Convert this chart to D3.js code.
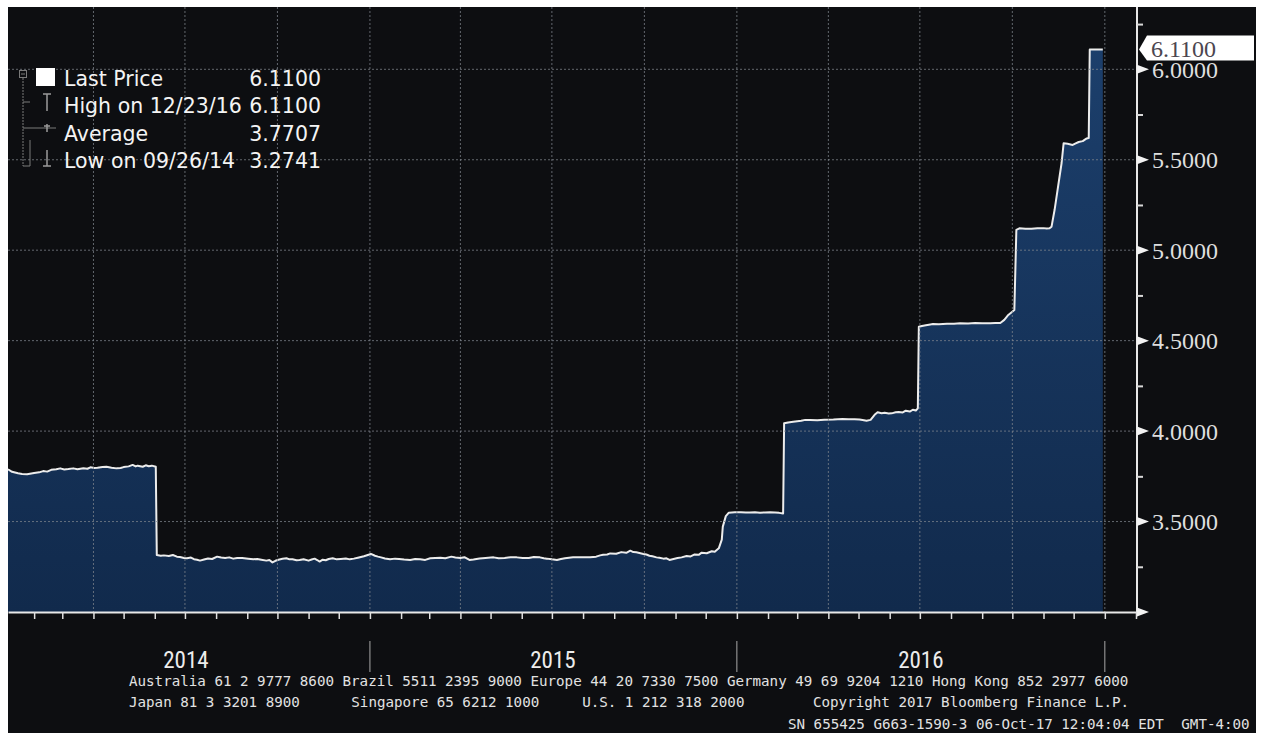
<!DOCTYPE html>
<html>
<head>
<meta charset="utf-8">
<script src="https://cdn.jsdelivr.net/npm/d3@7"></script>
<style>
  html, body { margin: 0; padding: 0; background: #fff; }
  svg { display: block; }
  .grid line { stroke: #80858e; stroke-opacity: 0.75; stroke-dasharray: 2,2; stroke-width: 1; }
  .price-line { fill: none; stroke: #ececec; stroke-width: 2; stroke-linejoin: round; }
  .y-label { font-family: "Liberation Serif", "DejaVu Serif", serif; font-size: 24px; fill: #dedede; }
  .year-label { font-family: "Liberation Sans Narrow", "Roboto Condensed", "DejaVu Sans Condensed", "Liberation Serif", serif; font-size: 23px; fill: #ececec; }
  .legend-text { font-family: "DejaVu Sans", "Noto Sans", sans-serif; font-size: 20.5px; fill: #f4f4f4; }
  .footer { font-family: "DejaVu Sans Mono", "Liberation Mono", monospace; font-size: 14.2px; fill: #e2e2e2; }
</style>
</head>
<body>
<svg id="chart" width="1261" height="736"></svg>
<script>
// price series [date, price]
var priceSeries = [
  ["2014-01-06", 3.789], ["2014-01-10", 3.775], ["2014-01-16", 3.767], ["2014-01-20", 3.763],
  ["2014-01-25", 3.761], ["2014-02-01", 3.768], ["2014-02-06", 3.772], ["2014-02-10", 3.779],
  ["2014-02-14", 3.776], ["2014-02-18", 3.786], ["2014-02-23", 3.789], ["2014-02-27", 3.794],
  ["2014-03-03", 3.788], ["2014-03-07", 3.790], ["2014-03-12", 3.794], ["2014-03-16", 3.789],
  ["2014-03-22", 3.795], ["2014-03-26", 3.792], ["2014-03-29", 3.800], ["2014-04-02", 3.796],
  ["2014-04-05", 3.797], ["2014-04-10", 3.801], ["2014-04-14", 3.803], ["2014-04-19", 3.798],
  ["2014-04-24", 3.794], ["2014-04-28", 3.796], ["2014-05-01", 3.801], ["2014-05-06", 3.805],
  ["2014-05-10", 3.813], ["2014-05-13", 3.805], ["2014-05-15", 3.809], ["2014-05-20", 3.803],
  ["2014-05-23", 3.811], ["2014-05-26", 3.806], ["2014-05-29", 3.809], ["2014-06-02", 3.803],
  ["2014-06-03", 3.315], ["2014-06-07", 3.311], ["2014-06-10", 3.313], ["2014-06-15", 3.310],
  ["2014-06-19", 3.315], ["2014-06-23", 3.306], ["2014-06-26", 3.304], ["2014-06-30", 3.299],
  ["2014-07-03", 3.297], ["2014-07-07", 3.301], ["2014-07-10", 3.292], ["2014-07-13", 3.289],
  ["2014-07-16", 3.284], ["2014-07-20", 3.290], ["2014-07-24", 3.296], ["2014-07-28", 3.293],
  ["2014-08-02", 3.306], ["2014-08-06", 3.301], ["2014-08-10", 3.299], ["2014-08-14", 3.302],
  ["2014-08-18", 3.295], ["2014-08-22", 3.299], ["2014-08-27", 3.298], ["2014-09-02", 3.294],
  ["2014-09-07", 3.291], ["2014-09-11", 3.293], ["2014-09-15", 3.289], ["2014-09-20", 3.284],
  ["2014-09-23", 3.287], ["2014-09-26", 3.2741], ["2014-09-29", 3.283], ["2014-10-02", 3.289],
  ["2014-10-06", 3.294], ["2014-10-10", 3.297], ["2014-10-13", 3.291], ["2014-10-16", 3.292],
  ["2014-10-20", 3.286], ["2014-10-23", 3.288], ["2014-10-27", 3.292], ["2014-11-01", 3.284],
  ["2014-11-04", 3.290], ["2014-11-07", 3.295], ["2014-11-10", 3.286], ["2014-11-12", 3.279],
  ["2014-11-15", 3.289], ["2014-11-18", 3.286], ["2014-11-21", 3.293], ["2014-11-25", 3.297],
  ["2014-11-29", 3.291], ["2014-12-03", 3.293], ["2014-12-08", 3.296], ["2014-12-12", 3.291],
  ["2014-12-16", 3.295], ["2014-12-20", 3.300], ["2014-12-26", 3.308], ["2015-01-02", 3.321],
  ["2015-01-06", 3.311], ["2015-01-09", 3.306], ["2015-01-12", 3.302], ["2015-01-16", 3.296],
  ["2015-01-21", 3.291], ["2015-01-26", 3.295], ["2015-01-30", 3.293], ["2015-02-04", 3.290],
  ["2015-02-10", 3.288], ["2015-02-15", 3.293], ["2015-02-20", 3.292], ["2015-02-25", 3.288],
  ["2015-03-02", 3.297], ["2015-03-07", 3.299], ["2015-03-12", 3.300], ["2015-03-17", 3.297],
  ["2015-03-23", 3.306], ["2015-03-27", 3.301], ["2015-04-01", 3.299], ["2015-04-05", 3.303],
  ["2015-04-10", 3.288], ["2015-04-14", 3.290], ["2015-04-20", 3.296], ["2015-04-26", 3.299],
  ["2015-05-04", 3.302], ["2015-05-09", 3.297], ["2015-05-15", 3.298], ["2015-05-21", 3.303],
  ["2015-05-27", 3.302], ["2015-06-02", 3.298], ["2015-06-08", 3.299], ["2015-06-13", 3.304],
  ["2015-06-19", 3.302], ["2015-06-23", 3.297], ["2015-06-26", 3.295], ["2015-07-01", 3.291],
  ["2015-07-06", 3.288], ["2015-07-10", 3.293], ["2015-07-14", 3.297], ["2015-07-18", 3.300],
  ["2015-07-22", 3.302], ["2015-07-28", 3.302], ["2015-08-03", 3.302], ["2015-08-08", 3.303],
  ["2015-08-14", 3.306], ["2015-08-18", 3.313], ["2015-08-21", 3.316], ["2015-08-25", 3.318],
  ["2015-08-28", 3.324], ["2015-09-03", 3.322], ["2015-09-08", 3.331], ["2015-09-13", 3.327],
  ["2015-09-17", 3.339], ["2015-09-20", 3.331], ["2015-09-23", 3.330], ["2015-09-27", 3.325],
  ["2015-09-30", 3.321], ["2015-10-03", 3.318], ["2015-10-06", 3.311], ["2015-10-09", 3.308],
  ["2015-10-13", 3.302], ["2015-10-16", 3.300], ["2015-10-20", 3.295], ["2015-10-23", 3.297],
  ["2015-10-26", 3.288], ["2015-10-30", 3.293], ["2015-11-03", 3.298], ["2015-11-07", 3.302],
  ["2015-11-12", 3.310], ["2015-11-16", 3.307], ["2015-11-20", 3.318], ["2015-11-24", 3.316],
  ["2015-11-27", 3.328], ["2015-12-02", 3.325], ["2015-12-07", 3.336], ["2015-12-10", 3.333],
  ["2015-12-14", 3.352], ["2015-12-17", 3.400], ["2015-12-18", 3.472], ["2015-12-21", 3.530],
  ["2015-12-24", 3.549], ["2015-12-30", 3.551], ["2016-01-05", 3.552], ["2016-01-10", 3.550],
  ["2016-01-14", 3.550], ["2016-01-19", 3.551], ["2016-01-24", 3.549], ["2016-01-29", 3.550],
  ["2016-02-03", 3.551], ["2016-02-08", 3.550], ["2016-02-12", 3.548], ["2016-02-16", 3.545],
  ["2016-02-17", 4.043], ["2016-02-21", 4.048], ["2016-02-26", 4.052], ["2016-03-01", 4.055],
  ["2016-03-05", 4.057], ["2016-03-09", 4.062], ["2016-03-14", 4.061], ["2016-03-21", 4.060],
  ["2016-03-28", 4.063], ["2016-04-06", 4.064], ["2016-04-15", 4.067], ["2016-04-21", 4.065],
  ["2016-04-27", 4.066], ["2016-05-02", 4.064], ["2016-05-05", 4.061], ["2016-05-09", 4.057],
  ["2016-05-13", 4.062], ["2016-05-17", 4.090], ["2016-05-20", 4.104], ["2016-05-24", 4.099],
  ["2016-05-27", 4.101], ["2016-05-31", 4.097], ["2016-06-03", 4.098], ["2016-06-07", 4.104],
  ["2016-06-10", 4.106], ["2016-06-14", 4.103], ["2016-06-17", 4.113], ["2016-06-21", 4.108],
  ["2016-06-24", 4.118], ["2016-06-27", 4.114], ["2016-06-29", 4.126], ["2016-06-30", 4.577],
  ["2016-07-03", 4.581], ["2016-07-07", 4.585], ["2016-07-10", 4.588], ["2016-07-14", 4.592],
  ["2016-07-20", 4.591], ["2016-07-28", 4.594], ["2016-08-04", 4.594], ["2016-08-10", 4.596],
  ["2016-08-18", 4.595], ["2016-08-25", 4.597], ["2016-09-01", 4.596], ["2016-09-09", 4.596],
  ["2016-09-14", 4.597], ["2016-09-19", 4.598], ["2016-09-23", 4.615], ["2016-09-27", 4.642],
  ["2016-10-03", 4.669], ["2016-10-05", 5.112], ["2016-10-08", 5.121], ["2016-10-14", 5.119],
  ["2016-10-20", 5.118], ["2016-10-26", 5.121], ["2016-11-01", 5.122], ["2016-11-04", 5.120],
  ["2016-11-07", 5.121], ["2016-11-09", 5.130], ["2016-11-12", 5.222], ["2016-11-15", 5.333],
  ["2016-11-19", 5.482], ["2016-11-21", 5.591], ["2016-11-25", 5.588], ["2016-11-30", 5.582],
  ["2016-12-03", 5.590], ["2016-12-06", 5.598], ["2016-12-10", 5.603], ["2016-12-14", 5.618],
  ["2016-12-16", 5.620], ["2016-12-17", 6.110], ["2016-12-23", 6.110], ["2016-12-30", 6.110]
];

var xDomain = ["2014-01-06", "2017-02-02"];
var yDomain = [3.0, 6.0];
var yMajorTicks = [3.0, 3.5, 4.0, 4.5, 5.0, 5.5, 6.0];
var yLabelTicks = [3.5, 4.0, 4.5, 5.0, 5.5, 6.0];
var yMinorTicks = [3.25, 3.75, 4.25, 4.75, 5.25, 5.75, 6.25];
var yearLabels = ["2014", "2015", "2016"];
var yearCenters = ["2014-07-02", "2015-07-02", "2016-07-02"];
var yearBreaks = ["2015-01-01", "2016-01-01", "2017-01-01"];
var lastPrice = 6.11;
var lastPriceLabel = "6.1100";

var legendLabels = ["Last Price", "High on 12/23/16", "Average", "Low on 09/26/14"];
var legendValues = ["6.1100", "6.1100", "3.7707", "3.2741"];

var footerLine1 = [[0, "Australia 61 2 9777 8600 Brazil 5511 2395 9000 Europe 44 20 7330 7500 Germany 49 69 9204 1210 Hong Kong 852 2977 6000"]];
var footerLine2 = [[0, "Japan 81 3 3201 8900"], [26, "Singapore 65 6212 1000"], [53, "U.S. 1 212 318 2000"], [80, "Copyright 2017 Bloomberg Finance L.P."]];
var footerLine3 = [[0, "SN 655425 G663-1590-3 06-Oct-17 12:04:04 EDT"], [46, "GMT-4:00"]];

(function(root) {
    var svg, x, y;
    var parse = d3.timeParse("%Y-%m-%d");
    var plotLeft = 8, plotRight = 1137, plotTop = 7, plotBottom = 612;
    var CHAR_W = 8.55;

    function draw() {
        svg = d3.select("#chart");

        x = d3.scaleTime()
              .domain(xDomain.map(parse))
              .range([plotLeft, plotRight]);

        y = d3.scaleLinear()
              .domain(yDomain)
              .range([plotBottom, 69.3]);

        svg.append("rect").attr("width", 1261).attr("height", 736).attr("fill", "#ffffff");
        svg.append("rect")
            .attr("x", 8).attr("y", 7)
            .attr("width", 1248).attr("height", 726)
            .attr("fill", "#0d0e11");

        drawArea();
        drawGrid();
        drawAxes();
        drawLastTag();
        drawLegend();
        drawFooter();
    }

    function drawArea() {
        var rows = priceSeries.map(function(d) { return { date: parse(d[0]), value: d[1] }; });

        var grad = svg.append("defs").append("linearGradient")
            .attr("id", "fillGrad")
            .attr("gradientUnits", "userSpaceOnUse")
            .attr("x1", 0).attr("y1", 40).attr("x2", 0).attr("y2", plotBottom);
        grad.append("stop").attr("offset", 0).attr("stop-color", "#1c3f6c");
        grad.append("stop").attr("offset", 1).attr("stop-color", "#112a4c");

        var area = d3.area()
            .x(function(d) { return x(d.date); })
            .y0(plotBottom)
            .y1(function(d) { return y(d.value); });

        var line = d3.line()
            .x(function(d) { return x(d.date); })
            .y(function(d) { return y(d.value); });

        svg.append("path").datum(rows).attr("d", area).attr("fill", "url(#fillGrad)");
        svg.append("path").datum(rows).attr("class", "price-line").attr("d", line);
    }

    function drawGrid() {
        var grid = svg.append("g").attr("class", "grid");

        grid.selectAll("hgrid")
            .data(yLabelTicks)
            .enter()
            .append("line")
            .attr("x1", plotLeft)
            .attr("x2", plotRight)
            .attr("y1", function(d) { return y(d); })
            .attr("y2", function(d) { return y(d); });

        var quarters = d3.timeMonth.every(3).range(parse("2014-02-01"), parse("2017-01-02"));
        grid.selectAll("vgrid")
            .data(quarters)
            .enter()
            .append("line")
            .attr("x1", function(d) { return x(d); })
            .attr("x2", function(d) { return x(d); })
            .attr("y1", plotTop)
            .attr("y2", plotBottom);
    }

    function drawAxes() {
        // bottom axis, monthly ticks, no labels
        var xAxis = d3.axisBottom(x)
            .ticks(d3.timeMonth.every(1))
            .tickSize(7)
            .tickSizeOuter(0)
            .tickFormat("");
        var gx = svg.append("g")
            .attr("transform", "translate(0," + plotBottom + ")")
            .call(xAxis);
        gx.select(".domain").attr("stroke", "#e8e8e8").attr("stroke-width", 2);
        gx.selectAll(".tick line").attr("stroke", "#e0e0e0").attr("stroke-width", 1.5);

        svg.append("g").selectAll("year-break")
            .data(yearBreaks.map(parse))
            .enter()
            .append("line")
            .attr("x1", function(d) { return x(d); })
            .attr("x2", function(d) { return x(d); })
            .attr("y1", 641)
            .attr("y2", 672)
            .attr("stroke", "#a8a8a8")
            .attr("stroke-width", 1);

        svg.append("g").selectAll("year-label")
            .data(yearLabels)
            .enter()
            .append("text")
            .attr("class", "year-label")
            .attr("text-anchor", "middle")
            .attr("x", function(d, i) { return x(parse(yearCenters[i])); })
            .attr("y", 668)
            .text(function(d) { return d; });

        // right axis: line, minor ticks, labels
        var minorAxis = d3.axisRight(y)
            .tickValues(yMinorTicks)
            .tickSize(6)
            .tickSizeOuter(0)
            .tickFormat("");
        var gy = svg.append("g")
            .attr("transform", "translate(" + plotRight + ",0)")
            .call(minorAxis);
        gy.select(".domain").attr("d", "M0," + plotTop + "V" + (plotBottom + 1))
            .attr("stroke", "#e8e8e8").attr("stroke-width", 2);
        gy.selectAll(".tick line").attr("stroke", "#d8d8d8").attr("stroke-width", 2);

        var labelAxis = d3.axisRight(y)
            .tickValues(yLabelTicks)
            .tickSize(0)
            .tickPadding(15)
            .tickFormat(d3.format(".4f"));
        var gl = svg.append("g")
            .attr("transform", "translate(" + plotRight + ",0)")
            .call(labelAxis);
        gl.select(".domain").remove();
        gl.selectAll(".tick text")
            .attr("class", "y-label")
            .attr("fill", null)
            .attr("dy", "0.34em");

        svg.append("g").selectAll("major-tick")
            .data(yMajorTicks)
            .enter()
            .append("path")
            .attr("d", function(d) {
                var ty = y(d);
                return "M" + plotRight + "," + (ty - 4.5) + "L" + (plotRight + 12) + "," + ty + "L" + plotRight + "," + (ty + 4.5) + "Z";
            })
            .attr("fill", "#f2f2f2");
    }

    function drawLastTag() {
        var ty = y(lastPrice);
        var tag = svg.append("g");
        tag.append("path")
            .attr("d", "M" + (plotRight + 2) + "," + ty +
                       "L" + (plotRight + 10) + "," + (ty - 14) +
                       "H1254V" + (ty + 11) +
                       "H" + (plotRight + 10) + "Z")
            .attr("fill", "#ffffff");
        tag.append("text")
            .attr("class", "y-label")
            .attr("x", 1151)
            .attr("y", ty + 7.5)
            .style("fill", "#4c4650")
            .text(lastPriceLabel);
    }

    function drawLegend() {
        var lg = svg.append("g").attr("class", "legend");
        var rowY = function(i) { return 86 + i * 27.3; };
        var grey = "#7a7a7a";

        // tree lines
        lg.append("rect").attr("x", 19.5).attr("y", 70.5).attr("width", 7).attr("height", 7)
            .attr("fill", "none").attr("stroke", grey);
        lg.append("line").attr("x1", 21).attr("x2", 25).attr("y1", 74).attr("y2", 74).attr("stroke", grey);
        lg.append("line").attr("x1", 23).attr("x2", 23).attr("y1", 78).attr("y2", 166)
            .attr("stroke", grey).attr("stroke-dasharray", "2,1");
        lg.append("line").attr("x1", 23).attr("x2", 30).attr("y1", 102).attr("y2", 102).attr("stroke", grey);
        lg.append("line").attr("x1", 23).attr("x2", 56).attr("y1", 128).attr("y2", 128).attr("stroke", grey);
        lg.append("line").attr("x1", 23).attr("x2", 30).attr("y1", 166).attr("y2", 166).attr("stroke", grey);
        lg.append("line").attr("x1", 30).attr("x2", 30).attr("y1", 140).attr("y2", 166).attr("stroke", grey);

        // series marker
        lg.append("rect").attr("x", 36).attr("y", 68).attr("width", 19).attr("height", 18).attr("fill", "#ffffff");
        // high marker
        lg.append("path").attr("d", "M43,94H51M47,94V111").attr("stroke", "#9a9a9a").attr("stroke-width", 1.5);
        // average marker
        lg.append("path").attr("d", "M47,124V132M44,126H50").attr("stroke", "#9a9a9a").attr("stroke-width", 1.5);
        // low marker
        lg.append("path").attr("d", "M47,150V166M43,166H51").attr("stroke", "#9a9a9a").attr("stroke-width", 1.5);

        lg.selectAll("legend-label")
            .data(legendLabels)
            .enter()
            .append("text")
            .attr("class", "legend-text")
            .attr("x", 64)
            .attr("y", function(d, i) { return rowY(i); })
            .text(function(d) { return d; });

        lg.selectAll("legend-value")
            .data(legendValues)
            .enter()
            .append("text")
            .attr("class", "legend-text")
            .attr("x", 321)
            .attr("text-anchor", "end")
            .attr("y", function(d, i) { return rowY(i); })
            .text(function(d) { return d; });
    }

    function drawFooter() {
        var lines = [[footerLine1, 129, 686], [footerLine2, 129, 707], [footerLine3, 788, 728.5]];
        var ft = svg.append("g");
        lines.forEach(function(l) {
            ft.selectAll(null)
                .data(l[0])
                .enter()
                .append("text")
                .attr("class", "footer")
                .attr("x", function(d) { return l[1] + d[0] * CHAR_W; })
                .attr("y", l[2])
                .text(function(d) { return d[1]; });
        });
    }

    draw();
})(window);
</script>
</body>
</html>
